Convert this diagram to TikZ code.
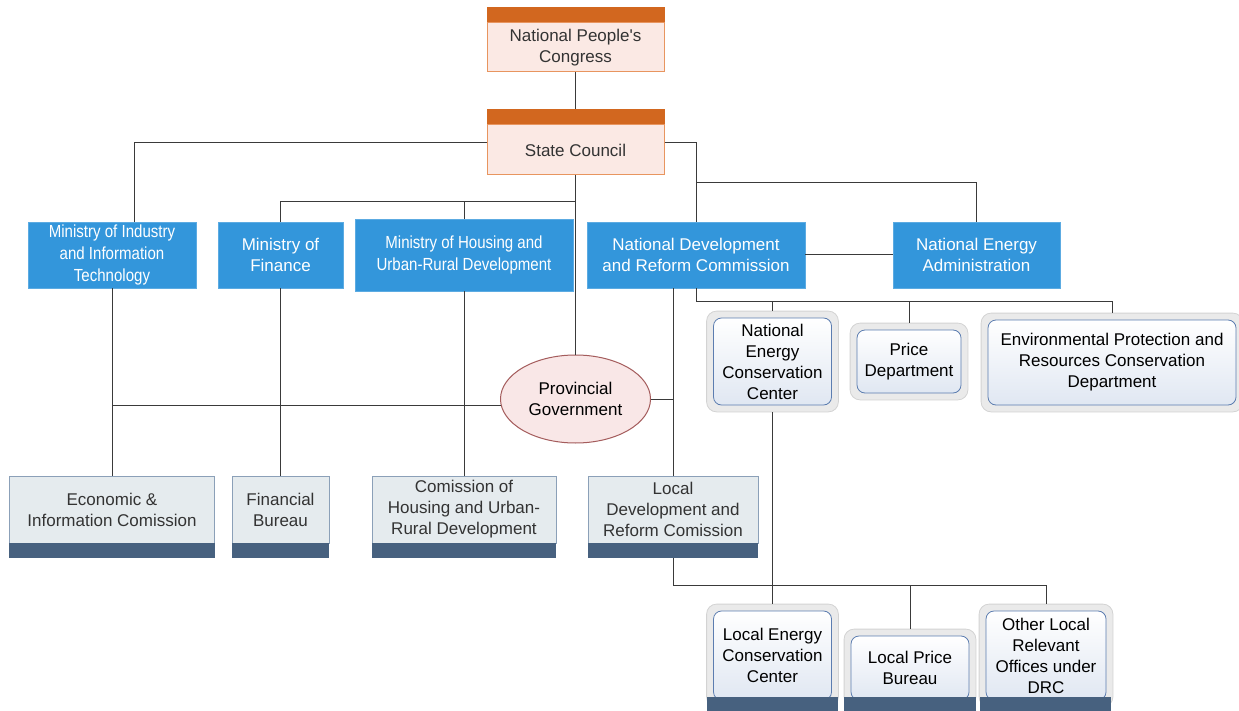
\documentclass[tikz,border=0pt]{standalone}
\usepackage{fontspec}
\setmainfont{Liberation Sans}
\newfontfamily\condf[FakeStretch=0.86]{Liberation Sans}
\usetikzlibrary{backgrounds,fit,shapes.geometric}
\definecolor{hdr}{HTML}{D2671F}
\definecolor{hbodyc}{HTML}{FBE9E4}
\definecolor{hlinec}{HTML}{E8955F}
\definecolor{bluc}{HTML}{3396DB}
\definecolor{gbodyc}{HTML}{E5EBEE}
\definecolor{glinec}{HTML}{8BA0B8}
\definecolor{footc}{HTML}{47617F}
\definecolor{ellf}{HTML}{F9E7E7}
\definecolor{elld}{HTML}{A45C5C}
\definecolor{outf}{HTML}{EAEAEA}
\definecolor{outd}{HTML}{D3D3D3}
\definecolor{inb}{HTML}{5C7DB0}
\definecolor{inf}{HTML}{E0E7F2}
\definecolor{wirec}{HTML}{3A3A3A}
\definecolor{txtc}{HTML}{333333}
\newcommand\fsz{\fontsize{17}{21}\selectfont}
\newcommand\fsm{\condf\fontsize{17.5}{22}\selectfont}
\begin{document}
\begin{tikzpicture}[x=1pt,y=-1pt,
 every node/.style={inner sep=0pt, align=center, font=\fsz},
 hbox/.style={draw=hlinec, fill=hbodyc, line width=1pt, text=txtc, minimum width=177pt},
 bbox/.style={fill=bluc, draw=bluc!80!white, line width=0.6pt, text=white, minimum height=66pt},
 gbox/.style={draw=glinec, fill=gbodyc, line width=0.8pt, text=txtc, minimum height=67pt},
 ibox/.style={draw=inb, line width=0.8pt, rounded corners=8pt, top color=white, bottom color=inf, text=black},
 obox/.style={draw=outd, fill=outf, line width=0.8pt, rounded corners=10pt, inner sep=6.5pt},
 wire/.style={draw=wirec, line width=1pt},
]
\useasboundingbox (0,0) rectangle (1239,711);

% top
\node[hbox, minimum height=49pt] (npc) at (575.5,47.5) {National People\textquotesingle s\\Congress};
\fill[hdr] (npc.north west) rectangle ([yshift=15pt]npc.north east);
\node[hbox, minimum height=50pt] (sc) at (575.5,150) {State Council};
\fill[hdr] (sc.north west) rectangle ([yshift=15pt]sc.north east);

% ministries
\node[bbox, minimum width=168pt, font=\fsm] (miit) at (112,255) {Ministry of Industry\\and Information\\Technology};
\node[bbox, minimum width=125pt] (mof) at (280.5,255) {Ministry of\\Finance};
\node[bbox, minimum width=218pt, minimum height=72pt, font=\fsm] (mohurd) at (464,255) {Ministry of Housing and\\Urban-Rural Development};
\node[bbox, minimum width=218pt] (ndrc) at (696,255) {National Development\\and Reform Commission};
\node[bbox, minimum width=167pt] (nea) at (976.5,255) {National Energy\\Administration};

% provincial
\node[ellipse, draw=elld, fill=ellf, line width=1pt, minimum width=150pt, minimum height=88pt, text=black] (pg) at (575.5,399) {Provincial\\Government};

% local boxes
\node[gbox, minimum width=205pt] (econ) at (112,509.5) {Economic \&\\Information Comission};
\fill[footc] (econ.south west) rectangle ([yshift=-15pt]econ.south east);
\node[gbox, minimum width=97pt] (fb) at (280.5,509.5) {Financial\\Bureau};
\fill[footc] (fb.south west) rectangle ([yshift=-15pt]fb.south east);
\node[gbox, minimum width=184pt] (churd) at (464,509.5) {Comission of\\Housing and Urban-\\Rural Development};
\fill[footc] (churd.south west) rectangle ([yshift=-15pt]churd.south east);
\node[gbox, minimum width=170pt] (ldrc) at (673,509.5) {Local\\Development and\\Reform Comission};
\fill[footc] (ldrc.south west) rectangle ([yshift=-15pt]ldrc.south east);

% right rounded boxes
\node[ibox, minimum width=118pt, minimum height=87pt] (necc) at (772.5,361.5) {National\\Energy\\Conservation\\Center};
\node[ibox, minimum width=104pt, minimum height=63pt] (price) at (909,361.5) {Price\\Department};
\node[ibox, minimum width=248pt, minimum height=85pt] (eprc) at (1112,362.5) {Environmental Protection and\\Resources Conservation\\Department};
\node[ibox, minimum width=118pt, minimum height=89pt] (lecc) at (772.5,655.5) {Local Energy\\Conservation\\Center};
\node[ibox, minimum width=118pt, minimum height=64pt] (lpb) at (910,668) {Local Price\\Bureau};
\node[ibox, minimum width=120pt, minimum height=89pt] (other) at (1046,655.5) {Other Local\\Relevant\\Offices under\\DRC};

\begin{scope}[on background layer]
 \fill[white] (0,0) rectangle (1239,711);
 \node[obox, fit=(necc)] (necco) {};
 \node[obox, fit=(price)] (priceo) {};
 \node[obox, fit=(eprc)] (eprco) {};
 \node[obox, fit=(lecc)] (lecco) {};
 \node[obox, fit=(lpb)] (lpbo) {};
 \node[obox, fit=(other)] (othero) {};
\end{scope}
\fill[footc] (707,697) rectangle (838,711);
\fill[footc] (844,697) rectangle (976,711);
\fill[footc] (980,697) rectangle (1111,711);

% connectors
\coordinate (sctop) at ([yshift=15pt]sc.north);
\draw[wire] (npc.south) -- (sctop);
\draw[wire] ([yshift=7.5pt]sc.west) -| ([xshift=22pt]miit.north);
\draw[wire] ([yshift=7.5pt]sc.east) -| (ndrc.north);
\coordinate (j1) at (696,183);
\draw[wire] (j1) -| (nea.north);
\draw[wire] (sc.south) -- (pg.north);
\coordinate (j2) at (575.5,202);
\draw[wire] (j2) -| (mof.north);
\draw[wire] (mohurd.north |- j2) -- (mohurd.north);
\draw[wire] (ndrc.east) -- (nea.west);
\coordinate (j3) at (696,301);
\draw[wire] (ndrc.south) -- (j3) -| (eprco.north);
\draw[wire] (necco.north |- j3) -- (necco.north);
\draw[wire] (priceo.north |- j3) -- (priceo.north);
\draw[wire] (ldrc.north |- ndrc.south) -- (ldrc.north);
\draw[wire] (pg.east) -- (ldrc.north |- pg.east);
\draw[wire] (pg.185) -- (econ.north |- pg.185);
\draw[wire] (miit.south) -- (econ.north);
\draw[wire] (mof.south) -- (fb.north);
\draw[wire] (mohurd.south) -- (churd.north);
\coordinate (j4) at (673,585);
\draw[wire] ([yshift=-15pt]ldrc.south) -- (j4) -| (othero.north);
\draw[wire] (necco.south) -- (lecco.north);
\draw[wire] (lpbo.north |- j4) -- (lpbo.north);
\end{tikzpicture}
\end{document}
